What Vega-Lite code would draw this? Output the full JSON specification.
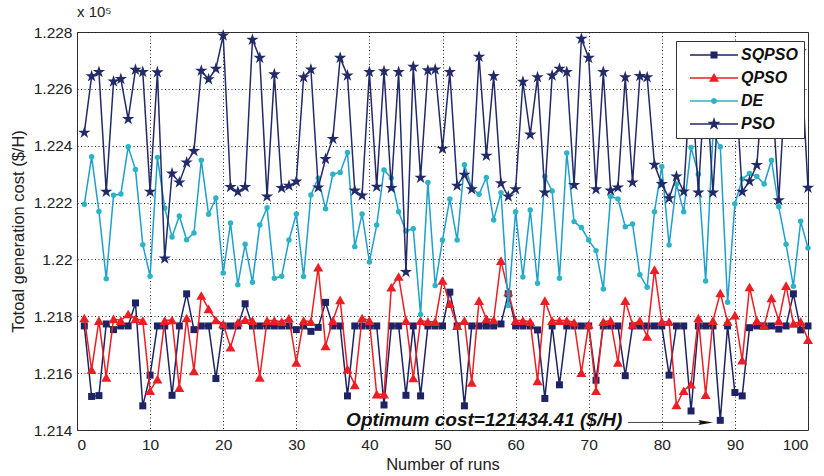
{
  "$schema": "https://vega.github.io/schema/vega-lite/v6.json",
  "width": 731,
  "height": 398,
  "autosize": {"type": "none"},
  "padding": {"left": 77, "top": 32, "right": 16, "bottom": 46},
  "background": "white",
  "title": {"text": "x 10⁵", "anchor": "start", "frame": "group", "fontSize": 15, "fontWeight": "normal", "font": "Liberation Sans", "color": "#222", "offset": 5},
  "datasets": {
    "runs": [
      {"run":1,"SQPSO":121766,"QPSO":121794,"DE":122194,"PSO":122446},
      {"run":2,"SQPSO":121518,"QPSO":121612,"DE":122361,"PSO":122644},
      {"run":3,"SQPSO":121521,"QPSO":121785,"DE":122169,"PSO":122659},
      {"run":4,"SQPSO":121773,"QPSO":121585,"DE":121932,"PSO":122238},
      {"run":5,"SQPSO":121753,"QPSO":121791,"DE":122226,"PSO":122626},
      {"run":6,"SQPSO":121766,"QPSO":121785,"DE":122230,"PSO":122635},
      {"run":7,"SQPSO":121766,"QPSO":121808,"DE":122396,"PSO":122494},
      {"run":8,"SQPSO":121847,"QPSO":121791,"DE":122316,"PSO":122667},
      {"run":9,"SQPSO":121485,"QPSO":121785,"DE":122052,"PSO":122659},
      {"run":10,"SQPSO":121593,"QPSO":121538,"DE":121941,"PSO":122238},
      {"run":11,"SQPSO":121766,"QPSO":121579,"DE":122359,"PSO":122658},
      {"run":12,"SQPSO":121766,"QPSO":121785,"DE":122181,"PSO":122003},
      {"run":13,"SQPSO":121522,"QPSO":121787,"DE":122079,"PSO":122302},
      {"run":14,"SQPSO":121766,"QPSO":121549,"DE":122153,"PSO":122271},
      {"run":15,"SQPSO":121879,"QPSO":121794,"DE":122069,"PSO":122341},
      {"run":16,"SQPSO":121753,"QPSO":121608,"DE":122093,"PSO":122381},
      {"run":17,"SQPSO":121766,"QPSO":121873,"DE":122349,"PSO":122664},
      {"run":18,"SQPSO":121766,"QPSO":121826,"DE":122159,"PSO":122634},
      {"run":19,"SQPSO":121581,"QPSO":121787,"DE":122216,"PSO":122671},
      {"run":20,"SQPSO":121766,"QPSO":121773,"DE":121952,"PSO":122788},
      {"run":21,"SQPSO":121766,"QPSO":121691,"DE":122128,"PSO":122255},
      {"run":22,"SQPSO":121766,"QPSO":121779,"DE":121911,"PSO":122238},
      {"run":23,"SQPSO":121844,"QPSO":121788,"DE":122053,"PSO":122255},
      {"run":24,"SQPSO":121766,"QPSO":121785,"DE":121920,"PSO":122773},
      {"run":25,"SQPSO":121766,"QPSO":121585,"DE":122121,"PSO":122709},
      {"run":26,"SQPSO":121766,"QPSO":121785,"DE":122182,"PSO":122221},
      {"run":27,"SQPSO":121766,"QPSO":121785,"DE":121934,"PSO":122651},
      {"run":28,"SQPSO":121766,"QPSO":121781,"DE":121941,"PSO":122251},
      {"run":29,"SQPSO":121766,"QPSO":121793,"DE":122068,"PSO":122259},
      {"run":30,"SQPSO":121753,"QPSO":121638,"DE":122160,"PSO":122274},
      {"run":31,"SQPSO":121766,"QPSO":121785,"DE":121940,"PSO":122641},
      {"run":32,"SQPSO":121747,"QPSO":121781,"DE":122227,"PSO":122668},
      {"run":33,"SQPSO":121761,"QPSO":121973,"DE":122286,"PSO":122253},
      {"run":34,"SQPSO":121849,"QPSO":121696,"DE":122178,"PSO":122353},
      {"run":35,"SQPSO":121766,"QPSO":121785,"DE":122300,"PSO":122424},
      {"run":36,"SQPSO":121766,"QPSO":121858,"DE":122306,"PSO":122709},
      {"run":37,"SQPSO":121520,"QPSO":121614,"DE":122376,"PSO":122647},
      {"run":38,"SQPSO":121766,"QPSO":121559,"DE":122045,"PSO":122242},
      {"run":39,"SQPSO":121766,"QPSO":121794,"DE":122160,"PSO":122225},
      {"run":40,"SQPSO":121766,"QPSO":121785,"DE":121991,"PSO":122659},
      {"run":41,"SQPSO":121766,"QPSO":121526,"DE":122121,"PSO":122256},
      {"run":42,"SQPSO":121488,"QPSO":121526,"DE":122315,"PSO":122662},
      {"run":43,"SQPSO":121766,"QPSO":121902,"DE":122286,"PSO":122251},
      {"run":44,"SQPSO":121766,"QPSO":121940,"DE":122168,"PSO":122659},
      {"run":45,"SQPSO":121522,"QPSO":121785,"DE":122100,"PSO":121956},
      {"run":46,"SQPSO":121766,"QPSO":121583,"DE":122108,"PSO":122678},
      {"run":47,"SQPSO":121520,"QPSO":121785,"DE":121806,"PSO":122287},
      {"run":48,"SQPSO":121766,"QPSO":121781,"DE":122271,"PSO":122665},
      {"run":49,"SQPSO":121766,"QPSO":121781,"DE":121908,"PSO":122668},
      {"run":50,"SQPSO":121766,"QPSO":121926,"DE":122068,"PSO":122389},
      {"run":51,"SQPSO":121885,"QPSO":121844,"DE":122213,"PSO":122659},
      {"run":52,"SQPSO":121766,"QPSO":121767,"DE":122068,"PSO":122259},
      {"run":53,"SQPSO":121485,"QPSO":121785,"DE":122333,"PSO":122298},
      {"run":54,"SQPSO":121766,"QPSO":121567,"DE":122251,"PSO":122247},
      {"run":55,"SQPSO":121766,"QPSO":121855,"DE":122229,"PSO":122713},
      {"run":56,"SQPSO":121766,"QPSO":121791,"DE":122288,"PSO":122365},
      {"run":57,"SQPSO":121766,"QPSO":121787,"DE":122139,"PSO":122645},
      {"run":58,"SQPSO":121773,"QPSO":121996,"DE":122235,"PSO":122268},
      {"run":59,"SQPSO":121879,"QPSO":121886,"DE":121838,"PSO":122221},
      {"run":60,"SQPSO":121766,"QPSO":121785,"DE":122168,"PSO":122247},
      {"run":61,"SQPSO":121766,"QPSO":121785,"DE":121938,"PSO":122625},
      {"run":62,"SQPSO":121766,"QPSO":121781,"DE":122174,"PSO":122439},
      {"run":63,"SQPSO":121752,"QPSO":121573,"DE":121916,"PSO":122641},
      {"run":64,"SQPSO":121511,"QPSO":121855,"DE":122292,"PSO":122235},
      {"run":65,"SQPSO":121766,"QPSO":121785,"DE":122241,"PSO":122647},
      {"run":66,"SQPSO":121559,"QPSO":121785,"DE":121934,"PSO":122671},
      {"run":67,"SQPSO":121766,"QPSO":121785,"DE":122374,"PSO":122659},
      {"run":68,"SQPSO":121766,"QPSO":121779,"DE":122133,"PSO":122262},
      {"run":69,"SQPSO":121766,"QPSO":121602,"DE":122112,"PSO":122776},
      {"run":70,"SQPSO":121766,"QPSO":121771,"DE":122068,"PSO":122709},
      {"run":71,"SQPSO":121575,"QPSO":121538,"DE":122031,"PSO":122247},
      {"run":72,"SQPSO":121766,"QPSO":121781,"DE":121896,"PSO":122659},
      {"run":73,"SQPSO":121766,"QPSO":121785,"DE":122221,"PSO":122242},
      {"run":74,"SQPSO":121766,"QPSO":121638,"DE":122213,"PSO":122253},
      {"run":75,"SQPSO":121591,"QPSO":121855,"DE":122115,"PSO":122641},
      {"run":76,"SQPSO":121766,"QPSO":121771,"DE":122125,"PSO":122271},
      {"run":77,"SQPSO":121766,"QPSO":121785,"DE":121946,"PSO":122645},
      {"run":78,"SQPSO":121766,"QPSO":121729,"DE":121902,"PSO":122641},
      {"run":79,"SQPSO":121766,"QPSO":121964,"DE":122168,"PSO":122333},
      {"run":80,"SQPSO":121766,"QPSO":121781,"DE":122327,"PSO":122265},
      {"run":81,"SQPSO":121593,"QPSO":121781,"DE":122051,"PSO":122215},
      {"run":82,"SQPSO":121766,"QPSO":121488,"DE":122265,"PSO":122292},
      {"run":83,"SQPSO":121766,"QPSO":121538,"DE":122168,"PSO":122239},
      {"run":84,"SQPSO":121467,"QPSO":121561,"DE":122394,"PSO":122660},
      {"run":85,"SQPSO":121766,"QPSO":121794,"DE":122300,"PSO":122235},
      {"run":86,"SQPSO":121766,"QPSO":121524,"DE":121924,"PSO":122660},
      {"run":87,"SQPSO":121766,"QPSO":121785,"DE":122440,"PSO":122235},
      {"run":88,"SQPSO":121434,"QPSO":121882,"DE":122396,"PSO":122660},
      {"run":89,"SQPSO":121766,"QPSO":121781,"DE":121849,"PSO":122620},
      {"run":90,"SQPSO":121532,"QPSO":121804,"DE":122196,"PSO":122660},
      {"run":91,"SQPSO":121520,"QPSO":121646,"DE":122283,"PSO":122238},
      {"run":92,"SQPSO":121760,"QPSO":121903,"DE":122302,"PSO":122275},
      {"run":93,"SQPSO":121766,"QPSO":121785,"DE":122292,"PSO":122332},
      {"run":94,"SQPSO":121766,"QPSO":121767,"DE":122265,"PSO":122660},
      {"run":95,"SQPSO":121766,"QPSO":121865,"DE":122349,"PSO":122620},
      {"run":96,"SQPSO":121755,"QPSO":121785,"DE":122185,"PSO":122208},
      {"run":97,"SQPSO":121766,"QPSO":121908,"DE":122053,"PSO":122660},
      {"run":98,"SQPSO":121879,"QPSO":121775,"DE":121906,"PSO":122580},
      {"run":99,"SQPSO":121752,"QPSO":121781,"DE":122134,"PSO":122732},
      {"run":100,"SQPSO":121766,"QPSO":121718,"DE":122040,"PSO":122252}
    ],
    "note": [{"run": 55.7, "cost": 121436, "label": "Optimum cost=121434.41 ($/H)"}],
    "arrow": [{"run": 75.4, "run2": 85.6, "cost": 121426.5}],
    "arrowhead": [{"run": 86.0, "cost": 121426.5}]
  },
  "encoding": {
    "x": {"field": "run", "type": "quantitative", "title": "Number of runs", "scale": {"domain": [0, 100], "nice": false, "zero": false}, "axis": {"values": [0,10,20,30,40,50,60,70,80,90,100]}},
    "y": {"field": "cost", "type": "quantitative", "title": "Totoal generation cost ($/H)", "scale": {"domain": [121400, 122800], "nice": false, "zero": false}, "axis": {"values": [121400,121600,121800,122000,122200,122400,122600,122800], "labelExpr": "format(datum.value/100000, '.4~r')"}}
  },
  "layer": [
    {
      "data": {"name": "runs"},
      "transform": [{"fold": ["SQPSO","QPSO","DE","PSO"], "as": ["method","cost"]}, {"filter": "datum.method === 'SQPSO'"}],
      "layer": [
        {"mark": {"type": "line", "strokeWidth": 1.5},
         "encoding": {"color": {"field": "method", "type": "nominal",
           "scale": {"domain": ["SQPSO","QPSO","DE","PSO"], "range": ["#1e2364","#eb1e23","#1ea0cd","#232a68"]},
           "legend": {
             "title": null, "orient": "none", "legendX": 599, "legendY": 9, "zindex": 1,
             "fillColor": "white", "strokeColor": "#333", "padding": 6,
             "symbolSize": 100, "symbolOffset": 24, "labelOffset": 19, "rowPadding": 7,
             "labelFont": "Liberation Sans", "labelFontSize": 16, "labelFontStyle": "italic", "labelFontWeight": "bold", "labelColor": "#111",
             "symbolStrokeWidth": 0,
             "encode": {"symbols": {"update": {
               "shape": {"signal": "datum.value === 'SQPSO' ? 'M-4.8,-0.16H4.8V0.16H-4.8ZM-0.7,-0.7H0.7V0.7H-0.7Z' : datum.value === 'QPSO' ? 'M-4.8,-0.16H4.8V0.16H-4.8ZM0,-1L1,0.75L-1,0.75Z' : datum.value === 'DE' ? 'M-4.8,-0.16H4.8V0.16H-4.8ZM-0.6,0A0.6,0.6 0 1,1 0.6,0A0.6,0.6 0 1,1 -0.6,0Z' : 'M-4.8,-0.16H4.8V0.16H-4.8ZM0,-1.4L0.315,-0.433L1.331,-0.433L0.509,0.165L0.823,1.133L0,0.535L-0.823,1.133L-0.509,0.165L-1.331,-0.433L-0.315,-0.433Z'"},
               "fill": {"signal": "datum.value === 'SQPSO' ? '#1e2364' : datum.value === 'QPSO' ? '#eb1e23' : datum.value === 'DE' ? '#2ab4c6' : '#232a68'"},
               "stroke": {"value": "transparent"},
               "strokeWidth": {"value": 0},
               "opacity": {"value": 1},
               "fillOpacity": {"value": 1}
             }}}
           }}}},
        {"mark": {"type": "point", "shape": "square", "size": 49, "filled": true, "opacity": 1, "color": "#1e2364"}}
      ]
    },
    {
      "data": {"name": "runs"},
      "transform": [{"fold": ["SQPSO","QPSO","DE","PSO"], "as": ["method","cost"]}, {"filter": "datum.method === 'QPSO'"}],
      "layer": [
        {"mark": {"type": "line", "strokeWidth": 1.5}, "encoding": {"color": {"field": "method", "type": "nominal"}}},
        {"mark": {"type": "point", "shape": "triangle-up", "size": 100, "filled": true, "opacity": 1, "color": "#eb1e23"}}
      ]
    },
    {
      "data": {"name": "runs"},
      "transform": [{"fold": ["SQPSO","QPSO","DE","PSO"], "as": ["method","cost"]}, {"filter": "datum.method === 'DE'"}],
      "layer": [
        {"mark": {"type": "line", "strokeWidth": 1.5}, "encoding": {"color": {"field": "method", "type": "nominal"}}},
        {"mark": {"type": "point", "shape": "circle", "size": 30, "filled": true, "opacity": 1, "color": "#2ab4c6"}}
      ]
    },
    {
      "data": {"name": "runs"},
      "transform": [{"fold": ["SQPSO","QPSO","DE","PSO"], "as": ["method","cost"]}, {"filter": "datum.method === 'PSO'"}],
      "layer": [
        {"mark": {"type": "line", "strokeWidth": 1.5}, "encoding": {"color": {"field": "method", "type": "nominal"}}},
        {"mark": {"type": "point", "shape": "M0,-1L0.225,-0.309L0.951,-0.309L0.363,0.118L0.588,0.809L0,0.382L-0.588,0.809L-0.363,0.118L-0.951,-0.309L-0.225,-0.309Z", "size": 169, "filled": true, "opacity": 1, "color": "#232a68"}}
      ]
    },
    {
      "data": {"name": "note"},
      "mark": {"type": "text", "font": "Liberation Sans", "fontSize": 19, "fontWeight": "bold", "fontStyle": "italic", "color": "#111", "align": "center", "baseline": "middle"},
      "encoding": {"text": {"field": "label"}}
    },
    {
      "data": {"name": "arrow"},
      "mark": {"type": "rule", "color": "#444", "strokeWidth": 1},
      "encoding": {"x2": {"field": "run2"}}
    },
    {
      "data": {"name": "arrowhead"},
      "mark": {"type": "point", "shape": "M-1,-0.33L1,0L-1,0.33L-0.7,0Z", "size": 225, "filled": true, "opacity": 1, "color": "#111"}
    }
  ],
  "config": {
    "font": "Liberation Sans",
    "view": {"stroke": "#333", "strokeWidth": 1},
    "axis": {
      "domain": false, "ticks": false,
      "grid": true, "gridColor": "#222", "gridDash": [1, 2.5], "gridWidth": 1, "gridOpacity": 1,
      "labelFont": "Liberation Sans", "labelFontSize": 15.5, "labelColor": "#222",
      "titleFont": "Liberation Sans", "titleFontSize": 16.5, "titleFontWeight": "normal", "titleColor": "#222"
    },
    "axisX": {"labelPadding": 7, "titlePadding": 4},
    "axisY": {"labelPadding": 5, "titlePadding": 7}
  }
}
